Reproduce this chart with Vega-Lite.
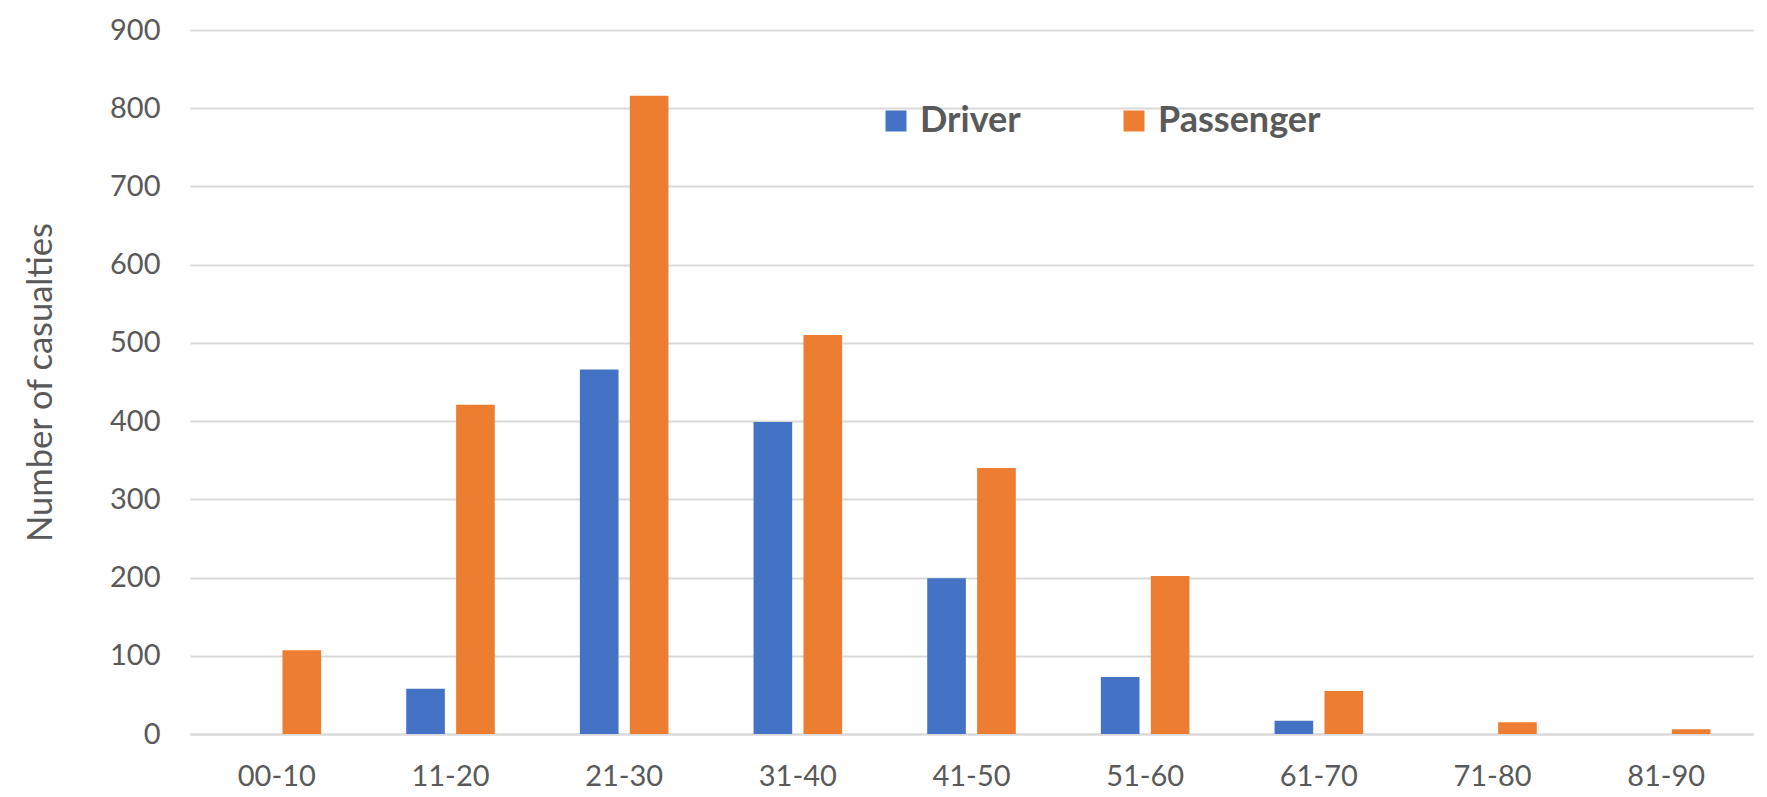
{
  "$schema": "https://vega.github.io/schema/vega-lite/v6.json",
  "description": "Number of casualties by age group, driver vs passenger",
  "width": 1563,
  "height": 704,
  "autosize": {"type": "none"},
  "padding": {"left": 190, "top": 30, "right": 14, "bottom": 63},
  "background": "white",
  "data": {
    "values": [
      {"age": "00-10", "role": "Driver", "count": 0},
      {"age": "00-10", "role": "Passenger", "count": 107},
      {"age": "11-20", "role": "Driver", "count": 58},
      {"age": "11-20", "role": "Passenger", "count": 421},
      {"age": "21-30", "role": "Driver", "count": 466},
      {"age": "21-30", "role": "Passenger", "count": 816},
      {"age": "31-40", "role": "Driver", "count": 399},
      {"age": "31-40", "role": "Passenger", "count": 510},
      {"age": "41-50", "role": "Driver", "count": 199},
      {"age": "41-50", "role": "Passenger", "count": 340},
      {"age": "51-60", "role": "Driver", "count": 73},
      {"age": "51-60", "role": "Passenger", "count": 202},
      {"age": "61-70", "role": "Driver", "count": 17},
      {"age": "61-70", "role": "Passenger", "count": 55},
      {"age": "71-80", "role": "Driver", "count": 0},
      {"age": "71-80", "role": "Passenger", "count": 15},
      {"age": "81-90", "role": "Driver", "count": 0},
      {"age": "81-90", "role": "Passenger", "count": 6}
    ]
  },
  "mark": {"type": "bar"},
  "encoding": {
    "x": {
      "field": "age",
      "type": "nominal",
      "title": null,
      "scale": {"paddingInner": 0.49, "paddingOuter": 0.245},
      "axis": {
        "labelAngle": 0,
        "ticks": false,
        "domainColor": "#d9d9d9",
        "domainWidth": 2,
        "labelPadding": 28,
        "labelFont": "Lato",
        "labelFontSize": 29,
        "labelColor": "#595959"
      }
    },
    "xOffset": {
      "field": "role",
      "type": "nominal",
      "scale": {"paddingInner": 0.226, "paddingOuter": 0}
    },
    "y": {
      "field": "count",
      "type": "quantitative",
      "title": "Number of casualties",
      "scale": {"domain": [0, 900], "nice": false},
      "axis": {
        "values": [0, 100, 200, 300, 400, 500, 600, 700, 800, 900],
        "domain": false,
        "ticks": false,
        "gridColor": "#d9d9d9",
        "gridWidth": 2,
        "labelPadding": 30,
        "labelFont": "Lato",
        "labelFontSize": 29,
        "labelColor": "#595959",
        "titleFont": "Lato",
        "titleFontSize": 34.5,
        "titleFontWeight": "normal",
        "titleColor": "#595959",
        "titlePadding": 51
      }
    },
    "color": {
      "field": "role",
      "type": "nominal",
      "scale": {"domain": ["Driver", "Passenger"], "range": ["#4472C4", "#ED7D31"]},
      "legend": {
        "title": null,
        "orient": "none",
        "direction": "horizontal",
        "legendX": 688,
        "legendY": 73,
        "symbolType": "square",
        "symbolSize": 441,
        "symbolStrokeWidth": 0,
        "labelFont": "Lato",
        "labelFontSize": 36,
        "labelFontWeight": "bold",
        "labelColor": "#595959",
        "labelLimit": 400,
        "labelOffset": 6,
        "columnPadding": 95
      }
    }
  },
  "config": {
    "view": {"stroke": null}
  }
}
